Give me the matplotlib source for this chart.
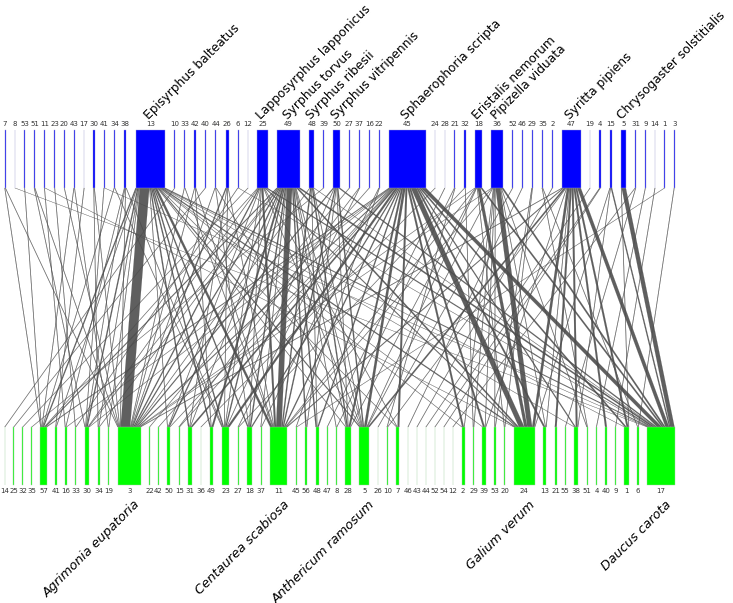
import matplotlib

matplotlib.use("Agg")
import matplotlib.pyplot as plt  # noqa: E402
from matplotlib.patches import Polygon, Rectangle  # noqa: E402

# pollinators (upper level), in plotted order
top_order = [7, 8, 53, 51, 11, 23, 20, 43, 17, 30, 41, 34, 38, 13, 10, 33, 42, 40,
             44, 26, 6, 12, 25, 49, 48, 39, 50, 27, 37, 16, 22, 45, 24, 28, 21, 32,
             18, 36, 52, 46, 29, 35, 2, 47, 19, 4, 15, 5, 31, 9, 14, 1, 3]
# plants (lower level), in plotted order
bottom_order = [14, 25, 32, 35, 57, 41, 16, 33, 30, 34, 19, 3, 22, 42, 50, 15, 31,
                36, 49, 23, 27, 18, 37, 11, 45, 56, 48, 47, 8, 28, 5, 26, 10, 7, 46,
                43, 44, 52, 54, 12, 2, 29, 39, 53, 20, 24, 13, 21, 55, 38, 51, 4, 40,
                9, 1, 6, 17]

top_names = {13: "Episyrphus balteatus", 25: "Lapposyrphus lapponicus",
             49: "Syrphus torvus", 48: "Syrphus ribesii", 50: "Syrphus vitripennis",
             45: "Sphaerophoria scripta", 18: "Eristalis nemorum",
             36: "Pipizella viduata", 47: "Syritta pipiens",
             5: "Chrysogaster solstitialis"}
bottom_names = {3: "Agrimonia eupatoria", 11: "Centaurea scabiosa",
                5: "Anthericum ramosum", 24: "Galium verum", 17: "Daucus carota"}

# (pollinator, plant, number of visits)
interactions = [
    (7, 57, 1), (7, 3, 1), (8, 17, 1), (53, 57, 1), (51, 3, 1), (51, 30, 1),
    (11, 16, 1), (11, 24, 1), (23, 33, 1), (20, 3, 1), (43, 57, 1), (43, 19, 1),
    (17, 41, 1), (30, 3, 1), (30, 34, 1), (41, 30, 1), (41, 17, 1), (34, 57, 1),
    (34, 23, 1), (38, 3, 1), (38, 30, 1), (38, 16, 1), (38, 23, 1),
    (13, 3, 16), (13, 57, 2), (13, 30, 2), (13, 23, 2), (13, 11, 4), (13, 31, 2),
    (13, 49, 2), (13, 18, 2), (13, 5, 2), (13, 24, 3), (13, 17, 3), (13, 1, 1),
    (13, 38, 1), (13, 19, 1), (13, 41, 1), (13, 34, 1), (13, 50, 1), (13, 28, 1),
    (13, 7, 1), (13, 2, 1), (13, 39, 1),
    (10, 14, 1), (33, 3, 1), (33, 11, 1), (42, 3, 1), (42, 11, 1), (42, 49, 1),
    (40, 25, 1), (44, 3, 1), (44, 18, 1), (44, 5, 1), (26, 3, 2), (26, 23, 1),
    (26, 11, 1), (26, 31, 1), (6, 33, 1), (6, 17, 1), (12, 32, 1),
    (25, 3, 2), (25, 11, 3), (25, 17, 3), (25, 23, 1), (25, 57, 1), (25, 24, 2),
    (25, 5, 1), (25, 30, 1), (25, 50, 1), (25, 7, 1), (25, 18, 1),
    (49, 3, 2), (49, 11, 9), (49, 23, 2), (49, 57, 2), (49, 31, 1), (49, 49, 3),
    (49, 18, 2), (49, 5, 1), (49, 24, 3), (49, 17, 4), (49, 28, 1), (49, 48, 2),
    (49, 34, 1), (49, 50, 2), (49, 56, 2), (49, 37, 1), (49, 8, 1), (49, 30, 1),
    (48, 11, 2), (48, 3, 1), (48, 28, 2), (48, 17, 1), (48, 5, 1), (48, 48, 1),
    (39, 35, 1),
    (50, 11, 2), (50, 3, 2), (50, 5, 2), (50, 17, 3), (50, 23, 1), (50, 28, 1),
    (50, 56, 1),
    (27, 22, 1), (37, 15, 1), (37, 27, 1), (16, 42, 1), (22, 37, 1), (22, 45, 1),
    (45, 3, 2), (45, 57, 2), (45, 16, 1), (45, 30, 1), (45, 23, 4), (45, 11, 2),
    (45, 18, 2), (45, 28, 3), (45, 5, 4), (45, 7, 3), (45, 2, 3), (45, 39, 3),
    (45, 24, 9), (45, 13, 3), (45, 38, 2), (45, 1, 3), (45, 17, 8), (45, 50, 1),
    (45, 31, 3), (45, 48, 2), (45, 15, 1),
    (24, 36, 1), (28, 47, 1), (21, 8, 1), (21, 10, 1), (32, 27, 1), (32, 29, 1),
    (18, 24, 5), (18, 17, 3), (18, 3, 1), (18, 11, 1), (18, 5, 1), (18, 28, 1),
    (18, 20, 1),
    (36, 24, 8), (36, 17, 3), (36, 3, 1), (36, 11, 1), (36, 5, 1), (36, 13, 1),
    (36, 2, 1), (36, 39, 1), (36, 29, 1), (36, 53, 1), (36, 51, 1),
    (52, 26, 1), (46, 46, 1), (29, 53, 1), (29, 20, 1), (35, 51, 1), (35, 6, 1),
    (2, 43, 1),
    (47, 3, 2), (47, 11, 2), (47, 5, 3), (47, 24, 4), (47, 17, 6), (47, 38, 3),
    (47, 1, 3), (47, 39, 1), (47, 40, 3), (47, 21, 3), (47, 13, 1), (47, 10, 1),
    (19, 44, 1), (4, 52, 1), (4, 54, 1), (15, 17, 2), (15, 24, 1), (15, 38, 1),
    (5, 17, 7), (5, 1, 1), (31, 12, 1), (31, 55, 1), (9, 4, 1),
    (14, 9, 1), (1, 45, 1), (3, 6, 1),
]

W, H = 733, 603
X0, X1 = 4.5, 674.5
TOP_Y0, TOP_Y1 = 130, 188
BOT_Y0, BOT_Y1 = 427, 485
LINK_COL = "#4d4d4d"


def totals(idx):
    out = {}
    for it in interactions:
        out[it[idx]] = out.get(it[idx], 0) + it[2]
    return out


def layout(order, tot, scale):
    widths = [tot[k] * scale for k in order]
    gap = (X1 - X0 - sum(widths)) / (len(order) - 1)
    pos, x = {}, X0
    for k, w in zip(order, widths):
        pos[k] = (x, w)
        x += w + gap
    return pos


top_tot, bot_tot = totals(0), totals(1)
scale = 0.3 * (X1 - X0) / sum(top_tot.values())
top_pos = layout(top_order, top_tot, scale)
bot_pos = layout(bottom_order, bot_tot, scale)

# where each link sits inside its boxes: ordered by partner position
top_off, bot_off = {}, {}
for t in top_order:
    links = sorted((i for i in interactions if i[0] == t), key=lambda i: bot_pos[i[1]][0])
    x = top_pos[t][0]
    for i in links:
        top_off[i] = x
        x += i[2] * scale
for b in bottom_order:
    links = sorted((i for i in interactions if i[1] == b), key=lambda i: top_pos[i[0]][0])
    x = bot_pos[b][0]
    for i in links:
        bot_off[i] = x
        x += i[2] * scale

fig = plt.figure(figsize=(W / 100, H / 100), dpi=100)
ax = fig.add_axes([0, 0, 1, 1])
ax.set_xlim(0, W)
ax.set_ylim(H, 0)
ax.axis("off")

for i in interactions:
    w = i[2] * scale
    tx, bx = top_off[i], bot_off[i]
    ax.add_patch(Polygon([(tx, TOP_Y1), (tx + w, TOP_Y1), (bx + w, BOT_Y0), (bx, BOT_Y0)],
                         closed=True, fc=LINK_COL, ec=LINK_COL, lw=0.1, alpha=0.9))

for k in top_order:
    x, w = top_pos[k]
    ax.add_patch(Rectangle((x, TOP_Y0), w, TOP_Y1 - TOP_Y0, fc="#0000ff",
                           ec="#a0a0d0", lw=0.3, zorder=3))
    ax.text(x + w / 2, TOP_Y0 - 3, str(k), ha="center", va="bottom",
            fontsize=5, color="#333333")
    if k in top_names:
        ax.text(x + w / 2 + 1, TOP_Y0 - 8, top_names[k], ha="left", va="bottom",
                rotation=45, rotation_mode="anchor", fontsize=8.8)

for k in bottom_order:
    x, w = bot_pos[k]
    ax.add_patch(Rectangle((x, BOT_Y0), w, BOT_Y1 - BOT_Y0, fc="#00ff00",
                           ec="#a0d0a0", lw=0.3, zorder=3))
    ax.text(x + w / 2, BOT_Y1 + 3, str(k), ha="center", va="top",
            fontsize=5, color="#333333")
    if k in bottom_names:
        ax.text(x + w / 2 + 4, BOT_Y1 + 13, bottom_names[k], ha="right", va="top",
                rotation=45, rotation_mode="anchor", fontsize=9.3, style="italic")

fig.savefig("out.png", dpi=100)
